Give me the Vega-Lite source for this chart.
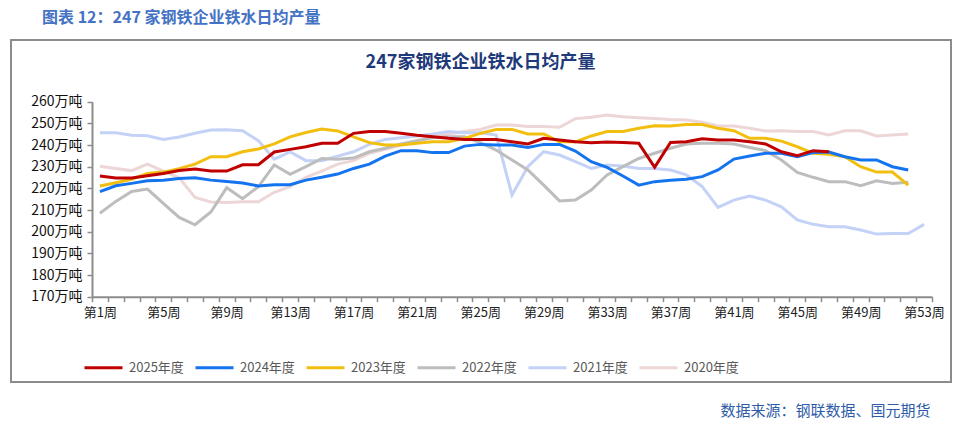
{
  "$schema": "https://vega.github.io/schema/vega-lite/v6.json",
  "width": 940,
  "height": 342,
  "autosize": {"type": "none"},
  "padding": {"left": 11, "top": 40, "right": 12, "bottom": 44},
  "background": "white",
  "title": {
    "text": "图表 12：247 家钢铁企业铁水日均产量",
    "anchor": "start",
    "frame": "group",
    "dx": 31,
    "offset": 14,
    "font": "Noto Sans CJK SC",
    "fontSize": 16,
    "fontWeight": "bold",
    "color": "#4472C4"
  },
  "config": {
    "view": {"stroke": "#8C8C8C", "strokeWidth": 2},
    "font": "Noto Sans CJK SC"
  },
  "data": {
    "values": [
      {"year":"2020年度","w":1,"v":230.2},{"year":"2020年度","w":2,"v":229.2},{"year":"2020年度","w":3,"v":228.2},{"year":"2020年度","w":4,"v":231.2},{"year":"2020年度","w":5,"v":228.0},{"year":"2020年度","w":6,"v":224.9},{"year":"2020年度","w":7,"v":215.8},{"year":"2020年度","w":8,"v":213.7},{"year":"2020年度","w":9,"v":213.5},{"year":"2020年度","w":10,"v":213.8},{"year":"2020年度","w":11,"v":213.8},{"year":"2020年度","w":12,"v":218.2},{"year":"2020年度","w":13,"v":220.8},{"year":"2020年度","w":14,"v":225.1},{"year":"2020年度","w":15,"v":228.0},{"year":"2020年度","w":16,"v":231.2},{"year":"2020年度","w":17,"v":232.8},{"year":"2020年度","w":18,"v":236.2},{"year":"2020年度","w":19,"v":238.0},{"year":"2020年度","w":20,"v":240.0},{"year":"2020年度","w":21,"v":242.0},{"year":"2020年度","w":22,"v":243.8},{"year":"2020年度","w":23,"v":245.1},{"year":"2020年度","w":24,"v":246.2},{"year":"2020年度","w":25,"v":247.2},{"year":"2020年度","w":26,"v":249.2},{"year":"2020年度","w":27,"v":249.2},{"year":"2020年度","w":28,"v":248.5},{"year":"2020年度","w":29,"v":248.5},{"year":"2020年度","w":30,"v":248.2},{"year":"2020年度","w":31,"v":252.2},{"year":"2020年度","w":32,"v":252.8},{"year":"2020年度","w":33,"v":253.8},{"year":"2020年度","w":34,"v":253.1},{"year":"2020年度","w":35,"v":252.6},{"year":"2020年度","w":36,"v":252.3},{"year":"2020年度","w":37,"v":251.8},{"year":"2020年度","w":38,"v":251.5},{"year":"2020年度","w":39,"v":250.5},{"year":"2020年度","w":40,"v":248.8},{"year":"2020年度","w":41,"v":248.8},{"year":"2020年度","w":42,"v":247.7},{"year":"2020年度","w":43,"v":246.5},{"year":"2020年度","w":44,"v":246.6},{"year":"2020年度","w":45,"v":246.2},{"year":"2020年度","w":46,"v":246.2},{"year":"2020年度","w":47,"v":244.6},{"year":"2020年度","w":48,"v":246.6},{"year":"2020年度","w":49,"v":246.6},{"year":"2020年度","w":50,"v":244.2},{"year":"2020年度","w":51,"v":244.6},{"year":"2020年度","w":52,"v":245.1},
      {"year":"2021年度","w":1,"v":245.7},{"year":"2021年度","w":2,"v":245.7},{"year":"2021年度","w":3,"v":244.5},{"year":"2021年度","w":4,"v":244.3},{"year":"2021年度","w":5,"v":242.6},{"year":"2021年度","w":6,"v":243.7},{"year":"2021年度","w":7,"v":245.4},{"year":"2021年度","w":8,"v":246.9},{"year":"2021年度","w":9,"v":247.1},{"year":"2021年度","w":10,"v":246.6},{"year":"2021年度","w":11,"v":242.0},{"year":"2021年度","w":12,"v":233.5},{"year":"2021年度","w":13,"v":236.8},{"year":"2021年度","w":14,"v":232.8},{"year":"2021年度","w":15,"v":232.8},{"year":"2021年度","w":16,"v":234.9},{"year":"2021年度","w":17,"v":236.9},{"year":"2021年度","w":18,"v":240.3},{"year":"2021年度","w":19,"v":242.6},{"year":"2021年度","w":20,"v":243.4},{"year":"2021年度","w":21,"v":244.2},{"year":"2021年度","w":22,"v":245.1},{"year":"2021年度","w":23,"v":246.2},{"year":"2021年度","w":24,"v":245.7},{"year":"2021年度","w":25,"v":245.7},{"year":"2021年度","w":26,"v":244.6},{"year":"2021年度","w":27,"v":216.9},{"year":"2021年度","w":28,"v":230.0},{"year":"2021年度","w":29,"v":236.9},{"year":"2021年度","w":30,"v":235.4},{"year":"2021年度","w":31,"v":232.3},{"year":"2021年度","w":32,"v":229.2},{"year":"2021年度","w":33,"v":230.8},{"year":"2021年度","w":34,"v":230.3},{"year":"2021年度","w":35,"v":229.2},{"year":"2021年度","w":36,"v":229.2},{"year":"2021年度","w":37,"v":228.5},{"year":"2021年度","w":38,"v":226.2},{"year":"2021年度","w":39,"v":220.8},{"year":"2021年度","w":40,"v":211.2},{"year":"2021年度","w":41,"v":214.6},{"year":"2021年度","w":42,"v":216.5},{"year":"2021年度","w":43,"v":214.6},{"year":"2021年度","w":44,"v":211.5},{"year":"2021年度","w":45,"v":205.4},{"year":"2021年度","w":46,"v":203.4},{"year":"2021年度","w":47,"v":202.3},{"year":"2021年度","w":48,"v":202.3},{"year":"2021年度","w":49,"v":200.8},{"year":"2021年度","w":50,"v":198.9},{"year":"2021年度","w":51,"v":199.2},{"year":"2021年度","w":52,"v":199.2},{"year":"2021年度","w":53,"v":203.4},
      {"year":"2022年度","w":1,"v":208.5},{"year":"2022年度","w":2,"v":214.0},{"year":"2022年度","w":3,"v":218.6},{"year":"2022年度","w":4,"v":219.7},{"year":"2022年度","w":5,"v":213.1},{"year":"2022年度","w":6,"v":206.6},{"year":"2022年度","w":7,"v":203.2},{"year":"2022年度","w":8,"v":209.1},{"year":"2022年度","w":9,"v":220.3},{"year":"2022年度","w":10,"v":215.2},{"year":"2022年度","w":11,"v":220.8},{"year":"2022年度","w":12,"v":230.8},{"year":"2022年度","w":13,"v":226.5},{"year":"2022年度","w":14,"v":230.0},{"year":"2022年度","w":15,"v":233.8},{"year":"2022年度","w":16,"v":233.4},{"year":"2022年度","w":17,"v":234.0},{"year":"2022年度","w":18,"v":236.9},{"year":"2022年度","w":19,"v":238.5},{"year":"2022年度","w":20,"v":240.5},{"year":"2022年度","w":21,"v":242.0},{"year":"2022年度","w":22,"v":243.4},{"year":"2022年度","w":23,"v":243.8},{"year":"2022年度","w":24,"v":243.8},{"year":"2022年度","w":25,"v":241.1},{"year":"2022年度","w":26,"v":237.7},{"year":"2022年度","w":27,"v":233.1},{"year":"2022年度","w":28,"v":228.5},{"year":"2022年度","w":29,"v":221.5},{"year":"2022年度","w":30,"v":214.2},{"year":"2022年度","w":31,"v":214.6},{"year":"2022年度","w":32,"v":219.2},{"year":"2022年度","w":33,"v":226.2},{"year":"2022年度","w":34,"v":230.0},{"year":"2022年度","w":35,"v":233.8},{"year":"2022年度","w":36,"v":236.2},{"year":"2022年度","w":37,"v":238.5},{"year":"2022年度","w":38,"v":240.5},{"year":"2022年度","w":39,"v":240.8},{"year":"2022年度","w":40,"v":240.8},{"year":"2022年度","w":41,"v":240.5},{"year":"2022年度","w":42,"v":238.9},{"year":"2022年度","w":43,"v":237.4},{"year":"2022年度","w":44,"v":233.1},{"year":"2022年度","w":45,"v":227.4},{"year":"2022年度","w":46,"v":225.1},{"year":"2022年度","w":47,"v":223.1},{"year":"2022年度","w":48,"v":223.1},{"year":"2022年度","w":49,"v":221.2},{"year":"2022年度","w":50,"v":223.5},{"year":"2022年度","w":51,"v":222.3},{"year":"2022年度","w":52,"v":222.8},
      {"year":"2023年度","w":1,"v":221.1},{"year":"2023年度","w":2,"v":222.6},{"year":"2023年度","w":3,"v":224.2},{"year":"2023年度","w":4,"v":226.9},{"year":"2023年度","w":5,"v":227.5},{"year":"2023年度","w":6,"v":229.1},{"year":"2023年度","w":7,"v":231.2},{"year":"2023年度","w":8,"v":234.6},{"year":"2023年度","w":9,"v":234.6},{"year":"2023年度","w":10,"v":236.9},{"year":"2023年度","w":11,"v":238.2},{"year":"2023年度","w":12,"v":240.5},{"year":"2023年度","w":13,"v":243.8},{"year":"2023年度","w":14,"v":245.8},{"year":"2023年度","w":15,"v":247.4},{"year":"2023年度","w":16,"v":246.5},{"year":"2023年度","w":17,"v":243.8},{"year":"2023年度","w":18,"v":241.1},{"year":"2023年度","w":19,"v":240.0},{"year":"2023年度","w":20,"v":240.0},{"year":"2023年度","w":21,"v":240.8},{"year":"2023年度","w":22,"v":241.5},{"year":"2023年度","w":23,"v":241.5},{"year":"2023年度","w":24,"v":243.1},{"year":"2023年度","w":25,"v":245.4},{"year":"2023年度","w":26,"v":247.2},{"year":"2023年度","w":27,"v":247.2},{"year":"2023年度","w":28,"v":245.1},{"year":"2023年度","w":29,"v":245.1},{"year":"2023年度","w":30,"v":241.5},{"year":"2023年度","w":31,"v":241.5},{"year":"2023年度","w":32,"v":244.2},{"year":"2023年度","w":33,"v":246.2},{"year":"2023年度","w":34,"v":246.3},{"year":"2023年度","w":35,"v":247.7},{"year":"2023年度","w":36,"v":248.9},{"year":"2023年度","w":37,"v":248.8},{"year":"2023年度","w":38,"v":249.5},{"year":"2023年度","w":39,"v":249.5},{"year":"2023年度","w":40,"v":247.7},{"year":"2023年度","w":41,"v":246.6},{"year":"2023年度","w":42,"v":243.1},{"year":"2023年度","w":43,"v":243.1},{"year":"2023年度","w":44,"v":241.8},{"year":"2023年度","w":45,"v":239.2},{"year":"2023年度","w":46,"v":236.2},{"year":"2023年度","w":47,"v":235.7},{"year":"2023年度","w":48,"v":234.6},{"year":"2023年度","w":49,"v":230.0},{"year":"2023年度","w":50,"v":227.5},{"year":"2023年度","w":51,"v":227.5},{"year":"2023年度","w":52,"v":221.5},
      {"year":"2024年度","w":1,"v":218.5},{"year":"2024年度","w":2,"v":221.2},{"year":"2024年度","w":3,"v":222.3},{"year":"2024年度","w":4,"v":223.5},{"year":"2024年度","w":5,"v":223.8},{"year":"2024年度","w":6,"v":224.5},{"year":"2024年度","w":7,"v":224.9},{"year":"2024年度","w":8,"v":223.8},{"year":"2024年度","w":9,"v":223.2},{"year":"2024年度","w":10,"v":222.5},{"year":"2024年度","w":11,"v":221.1},{"year":"2024年度","w":12,"v":221.7},{"year":"2024年度","w":13,"v":221.7},{"year":"2024年度","w":14,"v":223.8},{"year":"2024年度","w":15,"v":225.1},{"year":"2024年度","w":16,"v":226.6},{"year":"2024年度","w":17,"v":229.2},{"year":"2024年度","w":18,"v":231.2},{"year":"2024年度","w":19,"v":234.9},{"year":"2024年度","w":20,"v":237.4},{"year":"2024年度","w":21,"v":237.4},{"year":"2024年度","w":22,"v":236.5},{"year":"2024年度","w":23,"v":236.5},{"year":"2024年度","w":24,"v":239.5},{"year":"2024年度","w":25,"v":240.3},{"year":"2024年度","w":26,"v":240.0},{"year":"2024年度","w":27,"v":240.0},{"year":"2024年度","w":28,"v":238.9},{"year":"2024年度","w":29,"v":240.3},{"year":"2024年度","w":30,"v":240.3},{"year":"2024年度","w":31,"v":237.2},{"year":"2024年度","w":32,"v":232.3},{"year":"2024年度","w":33,"v":229.7},{"year":"2024年度","w":34,"v":225.7},{"year":"2024年度","w":35,"v":221.5},{"year":"2024年度","w":36,"v":223.1},{"year":"2024年度","w":37,"v":223.8},{"year":"2024年度","w":38,"v":224.2},{"year":"2024年度","w":39,"v":225.4},{"year":"2024年度","w":40,"v":228.5},{"year":"2024年度","w":41,"v":233.5},{"year":"2024年度","w":42,"v":234.9},{"year":"2024年度","w":43,"v":236.2},{"year":"2024年度","w":44,"v":236.2},{"year":"2024年度","w":45,"v":234.6},{"year":"2024年度","w":46,"v":236.5},{"year":"2024年度","w":47,"v":236.8},{"year":"2024年度","w":48,"v":234.6},{"year":"2024年度","w":49,"v":233.1},{"year":"2024年度","w":50,"v":233.1},{"year":"2024年度","w":51,"v":230.0},{"year":"2024年度","w":52,"v":228.5},
      {"year":"2025年度","w":1,"v":225.7},{"year":"2025年度","w":2,"v":224.8},{"year":"2025年度","w":3,"v":224.8},{"year":"2025年度","w":4,"v":225.8},{"year":"2025年度","w":5,"v":226.9},{"year":"2025年度","w":6,"v":228.2},{"year":"2025年度","w":7,"v":228.9},{"year":"2025年度","w":8,"v":228.0},{"year":"2025年度","w":9,"v":228.0},{"year":"2025年度","w":10,"v":230.9},{"year":"2025年度","w":11,"v":230.9},{"year":"2025年度","w":12,"v":236.8},{"year":"2025年度","w":13,"v":238.0},{"year":"2025年度","w":14,"v":239.2},{"year":"2025年度","w":15,"v":240.8},{"year":"2025年度","w":16,"v":240.8},{"year":"2025年度","w":17,"v":245.4},{"year":"2025年度","w":18,"v":246.2},{"year":"2025年度","w":19,"v":246.2},{"year":"2025年度","w":20,"v":245.4},{"year":"2025年度","w":21,"v":244.5},{"year":"2025年度","w":22,"v":243.8},{"year":"2025年度","w":23,"v":243.1},{"year":"2025年度","w":24,"v":242.6},{"year":"2025年度","w":25,"v":242.6},{"year":"2025年度","w":26,"v":242.6},{"year":"2025年度","w":27,"v":241.5},{"year":"2025年度","w":28,"v":240.5},{"year":"2025年度","w":29,"v":243.1},{"year":"2025年度","w":30,"v":242.3},{"year":"2025年度","w":31,"v":241.5},{"year":"2025年度","w":32,"v":241.1},{"year":"2025年度","w":33,"v":241.4},{"year":"2025年度","w":34,"v":241.2},{"year":"2025年度","w":35,"v":240.8},{"year":"2025年度","w":36,"v":229.7},{"year":"2025年度","w":37,"v":241.2},{"year":"2025年度","w":38,"v":241.5},{"year":"2025年度","w":39,"v":242.9},{"year":"2025年度","w":40,"v":242.3},{"year":"2025年度","w":41,"v":242.3},{"year":"2025年度","w":42,"v":241.5},{"year":"2025年度","w":43,"v":240.5},{"year":"2025年度","w":44,"v":236.9},{"year":"2025年度","w":45,"v":235.1},{"year":"2025年度","w":46,"v":237.4},{"year":"2025年度","w":47,"v":236.9}
    ]
  },
  "mark": {"type": "line", "strokeWidth": 3, "strokeJoin": "miter"},
  "encoding": {
    "x": {
      "field": "w",
      "type": "ordinal",
      "scale": {
        "type": "band",
        "paddingInner": 0,
        "paddingOuter": 0,
        "range": [81, 921],
        "domain": [1,2,3,4,5,6,7,8,9,10,11,12,13,14,15,16,17,18,19,20,21,22,23,24,25,26,27,28,29,30,31,32,33,34,35,36,37,38,39,40,41,42,43,44,45,46,47,48,49,50,51,52,53]
      },
      "axis": {
        "title": "数据来源：钢联数据、国元期货",
        "titleX": 919,
        "titleY": 114,
        "titleAlign": "right",
        "titleBaseline": "middle",
        "titleFont": "Noto Sans CJK SC",
        "titleFontSize": 15,
        "titleFontWeight": "normal",
        "titleColor": "#2E5CA8",
        "offset": -85.3,
        "tickBand": "extent",
        "labelExpr": "(datum.value - 1) % 4 == 0 ? '第' + datum.value + '周' : ''",
        "labelAngle": 0,
        "labelOverlap": false,
        "labelFontSize": 13,
        "labelColor": "#222222",
        "labelPadding": 5,
        "tickSize": 5,
        "tickColor": "#8C8C8C",
        "tickWidth": 1.5,
        "domainColor": "#8C8C8C",
        "domainWidth": 2,
        "grid": false
      }
    },
    "y": {
      "field": "v",
      "type": "quantitative",
      "scale": {"domain": [170, 260], "nice": false, "zero": false, "range": [256.7, 61.7]},
      "axis": {
        "title": "247家钢铁企业铁水日均产量",
        "titleAngle": 0,
        "titleX": 388,
        "titleY": 22,
        "titleAlign": "center",
        "titleBaseline": "middle",
        "titleFont": "Noto Sans CJK SC",
        "titleFontSize": 18,
        "titleFontWeight": "bold",
        "titleColor": "#1F3A7A",
        "offset": -81,
        "values": [170,180,190,200,210,220,230,240,250,260],
        "labelExpr": "datum.value + '万吨'",
        "labelFontSize": 14,
        "labelColor": "#111111",
        "labelPadding": 5,
        "tickSize": 5,
        "tickColor": "#8C8C8C",
        "tickWidth": 1.5,
        "domainColor": "#8C8C8C",
        "domainWidth": 2,
        "grid": false
      }
    },
    "color": {
      "field": "year",
      "type": "nominal",
      "scale": {
        "domain": ["2025年度","2024年度","2023年度","2022年度","2021年度","2020年度"],
        "range": ["#C00000","#1474F0","#F2BE0F","#BDBDBD","#C3D2F6","#EDD6D6"]
      },
      "legend": {
        "title": null,
        "orient": "none",
        "direction": "horizontal",
        "legendX": 72,
        "legendY": 307,
        "symbolType": "stroke",
        "symbolSize": 1444,
        "symbolStrokeWidth": 3,
        "labelFontSize": 13,
        "labelColor": "#595959",
        "labelOffset": 5,
        "columnPadding": 5
      }
    }
  }
}
